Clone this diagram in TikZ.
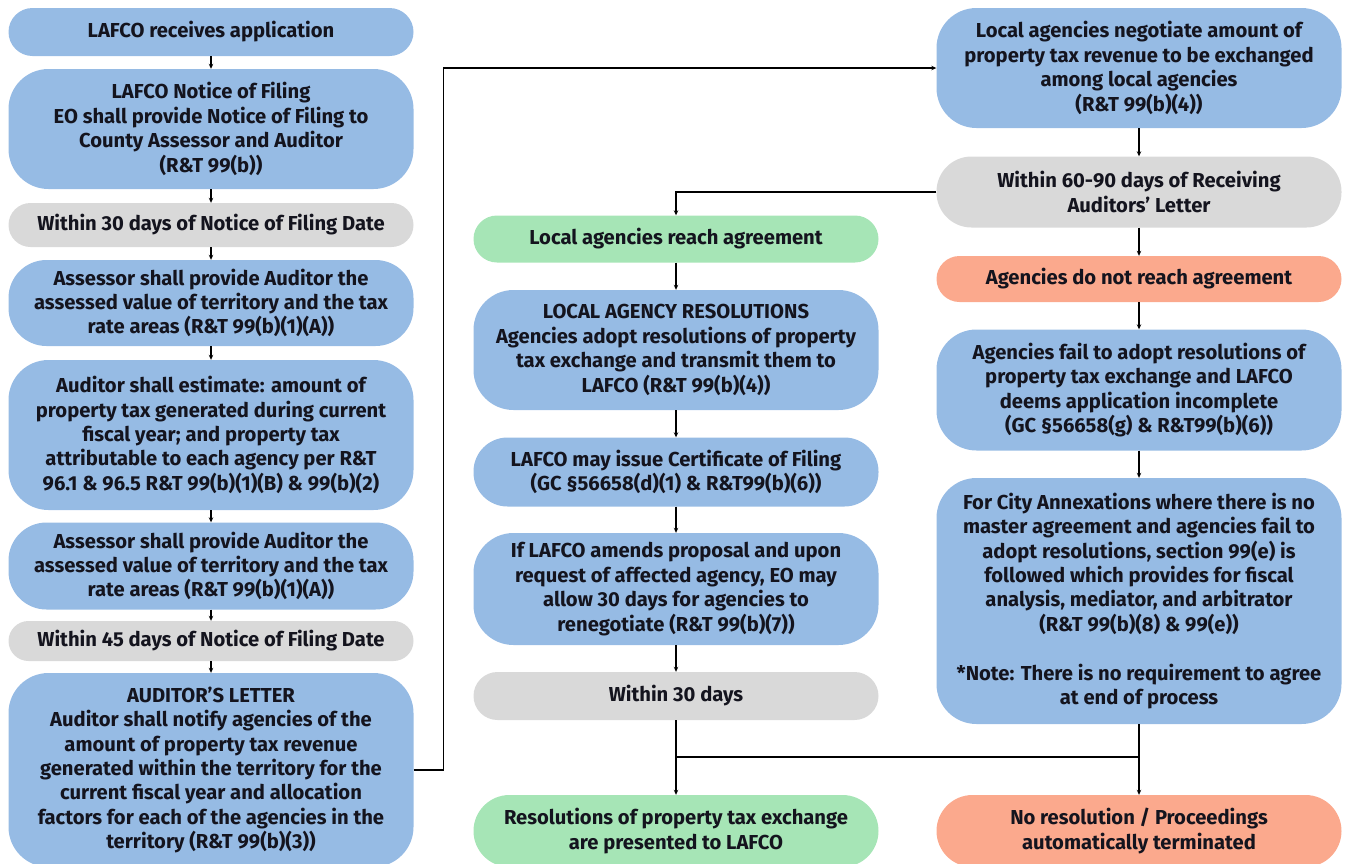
\documentclass[tikz,border=0pt]{standalone}
\usepackage{fontspec}
\setmainfont{Fira Sans}
\usetikzlibrary{arrows.meta}
\definecolor{bbl}{HTML}{96BBE4}
\definecolor{bgr}{HTML}{D9D9D9}
\definecolor{bgn}{HTML}{A6E5B6}
\definecolor{bsa}{HTML}{FBA98D}
\definecolor{txt}{HTML}{14141E}
\begin{document}
\begin{tikzpicture}[x=1pt,y=-1pt,
  box/.style={minimum width=405pt, inner sep=0pt, align=center,
    font=\fontsize{20.2}{24.4}\selectfont\bfseries, text=txt},
  blue/.style={box, fill=bbl},
  grey/.style={box, fill=bgr},
  green/.style={box, fill=bgn},
  salmon/.style={box, fill=bsa},
  conn/.style={draw=black, line width=1.1pt},
  arr/.style={conn, -{Stealth[length=5pt,width=4.5pt]}}]
\useasboundingbox (0,0) rectangle (1345,863);
% left column
\node[blue, minimum height=48pt, rounded corners=24pt] (a1) at (211,32) {LAFCO receives application};
\node[blue, minimum height=120pt, rounded corners=40pt] (a2) at (211,129) {LAFCO Notice of Filing\\EO shall provide Notice of Filing to\\County Assessor and Auditor\\(R\&T 99(b))};
\node[grey, minimum height=44pt, rounded corners=22pt] (a3) at (211,225) {Within 30 days of Notice of Filing Date};
\node[blue, minimum height=86pt, rounded corners=38pt] (a4) at (211,303) {Assessor shall provide Auditor the\\assessed value of territory and the tax\\rate areas (R\&T 99(b)(1)(A))};
\node[blue, minimum height=150pt, rounded corners=40pt] (a5) at (211,435) {Auditor shall estimate: amount of\\property tax generated during current\\fiscal year; and property tax\\attributable to each agency per R\&T\\96.1 \& 96.5 R\&T 99(b)(1)(B) \& 99(b)(2)};
\node[blue, minimum height=87pt, rounded corners=38pt] (a6) at (211,566) {Assessor shall provide Auditor the\\assessed value of territory and the tax\\rate areas (R\&T 99(b)(1)(A))};
\node[grey, minimum height=40pt, rounded corners=20pt] (a7) at (211,641) {Within 45 days of Notice of Filing Date};
\node[blue, minimum height=194pt, rounded corners=40pt] (a8) at (211,770) {AUDITOR’S LETTER\\Auditor shall notify agencies of the\\amount of property tax revenue\\generated within the territory for the\\current fiscal year and allocation\\factors for each of the agencies in the\\territory (R\&T 99(b)(3))};
% middle column
\node[green, minimum height=47pt, rounded corners=23.5pt] (m1) at (676,239) {Local agencies reach agreement};
\node[blue, minimum height=120pt, rounded corners=40pt] (m2) at (676,350) {LOCAL AGENCY RESOLUTIONS\\Agencies adopt resolutions of property\\tax exchange and transmit them to\\LAFCO (R\&T 99(b)(4))};
\node[blue, minimum height=69pt, rounded corners=34pt] (m3) at (676,472) {LAFCO may issue Certificate of Filing\\(GC §56658(d)(1) \& R\&T99(b)(6))};
\node[blue, minimum height=112pt, rounded corners=40pt] (m4) at (676,589) {If LAFCO amends proposal and upon\\request of affected agency, EO may\\allow 30 days for agencies to\\renegotiate (R\&T 99(b)(7))};
\node[grey, minimum height=48pt, rounded corners=24pt] (m5) at (676,696) {Within 30 days};
\node[green, minimum height=72pt, rounded corners=36pt] (m6) at (676,831) {Resolutions of property tax exchange\\are presented to LAFCO};
% right column
\node[blue, minimum height=120pt, rounded corners=40pt] (r1) at (1139,68) {Local agencies negotiate amount of\\property tax revenue to be exchanged\\among local agencies\\(R\&T 99(b)(4))};
\node[grey, minimum height=71pt, rounded corners=35pt] (r2) at (1139,192) {Within 60-90 days of Receiving\\Auditors’ Letter};
\node[salmon, minimum height=46pt, rounded corners=23pt] (r3) at (1139,279) {Agencies do not reach agreement};
\node[blue, minimum height=121pt, rounded corners=40pt] (r4) at (1139,390) {Agencies fail to adopt resolutions of\\property tax exchange and LAFCO\\deems application incomplete\\(GC §56658(g) \& R\&T99(b)(6))};
\node[blue, minimum height=246pt, rounded corners=40pt] (r5) at (1139,601) {For City Annexations where there is no\\master agreement and agencies fail to\\adopt resolutions, section 99(e) is\\followed which provides for fiscal\\analysis, mediator, and arbitrator\\(R\&T 99(b)(8) \& 99(e))\\[24.4pt]*Note: There is no requirement to agree\\at end of process};
\node[salmon, minimum height=72pt, rounded corners=36pt] (r6) at (1139,831) {No resolution / Proceedings\\automatically terminated};
% connectors
\draw[arr] (a1) -- (a2);
\draw[arr] (a2) -- (a3);
\draw[arr] (a3) -- (a4);
\draw[arr] (a4) -- (a5);
\draw[arr] (a5) -- (a6);
\draw[arr] (a6) -- (a7);
\draw[arr] (a7) -- (a8);
\draw[arr] (a8.east) -- ++(30,0) |- (r1.west);
\draw[arr] (r1) -- (r2);
\draw[arr] (r2.west) -| (m1.north);
\draw[arr] (r2) -- (r3);
\draw[arr] (r3) -- (r4);
\draw[arr] (r4) -- (r5);
\draw[arr] (m1) -- (m2);
\draw[arr] (m2) -- (m3);
\draw[arr] (m3) -- (m4);
\draw[arr] (m4) -- (m5);
\draw[arr] (m5) -- (m6);
\draw[arr] (r5) -- (r6);
\coordinate (jl) at (676,757);
\coordinate (jr) at (1139,757);
\draw[conn] (jl) -- (jr);
\end{tikzpicture}
\end{document}
